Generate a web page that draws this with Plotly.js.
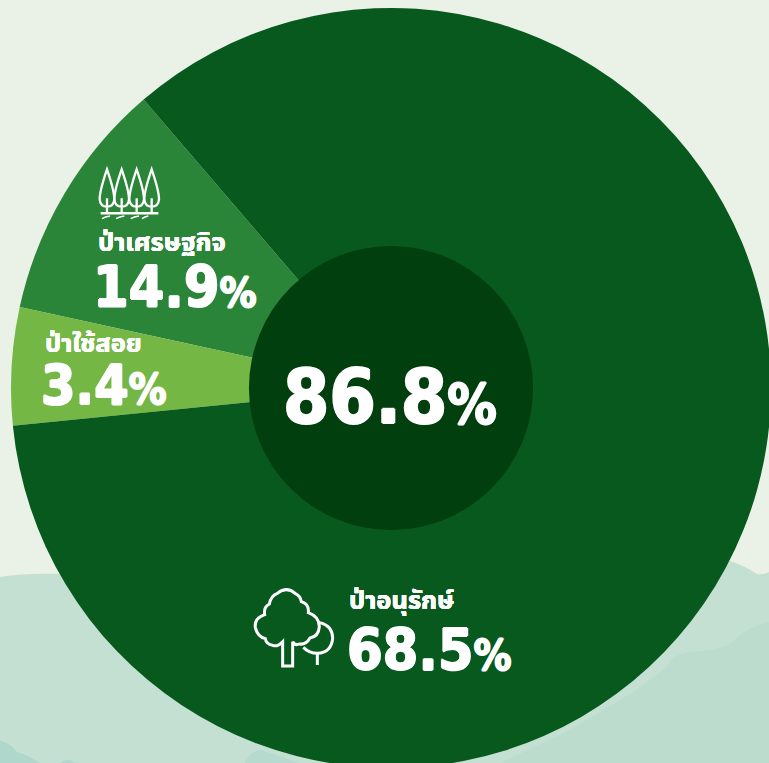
<!DOCTYPE html>
<html>
<head>
<meta charset="utf-8">
<script src="https://cdn.plot.ly/plotly-3.0.1.min.js"></script>
<style>html,body{margin:0;padding:0;overflow:hidden;background:#eaf1e6;width:769px;height:763px}</style>
</head>
<body>
<div id="chart"></div>
<script>
// Data
const categories = ['ป่าเศรษฐกิจ', 'ป่าใช้สอย', 'ป่าอนุรักษ์'];
const shownPercent = ['14.9', '3.4', '68.5'];
const totalPercent = '86.8';
// The artwork's wedges are not proportional to the printed figures: drawn share of the circle, %
const drawnShare = [10.3, 5.0, 84.7];
const sliceColors = ['#2b8539', '#74b744', '#07591e'];

const CANVAS = 800;
const px = v => v / CANVAS;
const py = v => 1 - v / CANVAS;
// map a path written in local units to paper coordinates
function toPaper(d, ox, oy, s) {
  return d.replace(/(-?[\d.]+),(-?[\d.]+)/g, (m, a, b) =>
    px(ox + a * s).toFixed(5) + ',' + py(oy + b * s).toFixed(5));
}
function shape(d, o) {
  return Object.assign({type: 'path', xref: 'paper', yref: 'paper', path: d}, o);
}
function decor(d, color) {
  return shape(toPaper(d, 0, 0, 1), {layer: 'below', fillcolor: color, line: {width: 0}});
}
function icon(d, ox, oy, s, w) {
  return shape(toPaper(d, ox, oy, s), {layer: 'above', line: {color: '#ffffff', width: w}});
}

// background hills
const hillBack = 'M0,577 Q25,573 60,574 L120,580 L600,700 L690,590 L730,561 Q745,566 757,574 Q763,575 769,572 L769,763 L0,763 Z';
const hillMid = 'M769,622 Q745,628 735,640 Q725,650 690,652 Q675,653 668,665 Q650,685 560,735 L500,763 L769,763 Z';
const hillLow = 'M0,740 Q12,745 17,752 Q28,755 40,763 L0,763 Z';
const hillLow2 = 'M60,763 Q68,757 75,763 Z';
const hillLow3 = 'M245,763 Q250,750 262,750 L300,763 Z';

// icons
const bigTree = 'M128,288 L128,215 Q112,232 98,226 Q78,222 76,206 Q52,200 46,172 Q42,145 74,134 Q70,112 88,102 Q92,78 112,70 Q140,48 165,70 Q182,78 184,95 Q208,102 205,128 Q238,140 238,170 Q236,200 210,204 Q198,225 178,222 Q165,228 158,215 L158,288 Z';
const smallTree = 'M240,158 Q278,168 278,205 Q274,248 232,250 Q208,250 190,232 M232,250 L232,285';
const pineCentres = [291, 335, 380, 425];
const pineShapes = pineCentres.map(c =>
  `M${c},28 Q${c + 22},92 ${c + 22},118 Q${c + 20},140 ${c},140 Q${c - 20},140 ${c - 22},118 Q${c - 22},92 ${c},28 Z M${c},115 L${c},160`);
const ground = 'M272,160 L445,160';
const grass = ['M276,176 Q285,170 300,168', 'M318,176 Q328,170 343,168', 'M362,176 Q372,170 387,168', 'M396,176 Q404,170 415,168'];

const NUM_FONT = 'DejaVu Sans Condensed, DejaVu Sans, sans-serif';
const THAI_FONT = 'Noto Sans Thai, Noto Sans, DejaVu Sans, sans-serif';
const fatten = r => `${r}px 0 0 #fff, -${r}px 0 0 #fff, 0 ${r}px 0 #fff, 0 -${r}px 0 #fff`;
function note(x, y, text, size, weight, family, r) {
  return {xref: 'paper', yref: 'paper', x: px(x), y: py(y), text, showarrow: false,
    xanchor: 'left', yanchor: 'middle', align: 'left', borderpad: 0,
    font: {family, size, color: '#ffffff', weight, shadow: fatten(r)}};
}
function pct(v, small) {
  return `${v}<span style="font-size:${small}px">%</span>`;
}

const data = [
  {type: 'pie', labels: categories, values: drawnShare, sort: false, direction: 'counterclockwise',
   rotation: 282.3, textinfo: 'none', hoverinfo: 'skip',
   marker: {colors: sliceColors, line: {width: 0}},
   domain: {x: [px(11), px(771)], y: [py(768), py(8)]}},
  {type: 'pie', labels: ['total'], values: [parseFloat(totalPercent)], sort: false,
   textinfo: 'none', hoverinfo: 'skip', marker: {colors: ['#013f0e'], line: {width: 0}},
   domain: {x: [px(249), px(533)], y: [py(530), py(246)]}}
];

const layout = {
  width: CANVAS, height: CANVAS, autosize: false, showlegend: false,
  margin: {l: 0, r: 0, t: 0, b: 0, pad: 0},
  paper_bgcolor: '#eaf1e6', plot_bgcolor: 'rgba(0,0,0,0)',
  shapes: [
    decor(hillBack, '#c4e0d2'), decor(hillMid, '#bcdccd'),
    decor(hillLow, '#b0d7cb'), decor(hillLow2, '#b0d7cb'), decor(hillLow3, '#b6dacd'),
    icon(bigTree, 240, 570, 1 / 3, 3), icon(smallTree, 240, 570, 1 / 3, 3),
    ...pineShapes.map(d => icon(d, 10, 160, 1 / 3, 2.3)),
    icon(ground, 10, 160, 1 / 3, 2.5),
    ...grass.map(d => icon(d, 10, 160, 1 / 3, 1.4))
  ],
  annotations: [
    note(97, 243, categories[0], 25.5, 700, THAI_FONT, 0.3),
    note(92, 287, pct(shownPercent[0], 41), 57, 700, NUM_FONT, 0.9),
    note(44, 344, categories[1], 25.5, 700, THAI_FONT, 0.3),
    note(40, 385, pct(shownPercent[1], 42), 55, 700, NUM_FONT, 0.9),
    note(348, 601, categories[2], 25.5, 700, THAI_FONT, 0.3),
    note(346, 650, pct(shownPercent[2], 42), 57, 700, NUM_FONT, 0.9),
    note(282, 397, pct(totalPercent, 55), 74, 700, NUM_FONT, 1.1)
  ]
};

Plotly.newPlot('chart', data, layout, {staticPlot: true, displayModeBar: false});
</script>
</body>
</html>
